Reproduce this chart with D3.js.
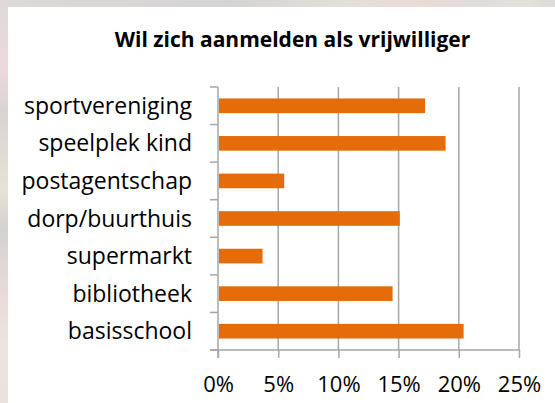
<!DOCTYPE html>
<html>
<head>
<meta charset="utf-8">
<script src="https://cdn.jsdelivr.net/npm/d3@7"></script>
<style>
  body { margin: 0; padding: 0; background: #fff; }
  svg { display: block; }
  text { font-family: "Open Sans", "Noto Sans", sans-serif; fill: #000; }
</style>
</head>
<body>
<svg id="vis" width="555" height="403"></svg>
<script>
// chart data
const categories = ["sportvereniging", "speelplek kind", "postagentschap", "dorp/buurthuis",
                    "supermarkt", "bibliotheek", "basisschool"];
const values = [17.2, 18.9, 5.5, 15.1, 3.7, 14.5, 20.4];
const xTicks = [0, 5, 10, 15, 20, 25];
const title = "Wil zich aanmelden als vrijwilliger";

const WIDTH = 555, HEIGHT = 403;
const PLOT = {left: 218, right: 519, top: 87, bottom: 350};

const svg = d3.select("#vis");

// blurred photo behind the card
const defs = svg.append("defs");
const leftGrad = defs.append("linearGradient").attr("id", "leftBg")
    .attr("x1", 0).attr("y1", 0).attr("x2", 0).attr("y2", 1);
[[0, "#dedada"], [0.17, "#ecd8dc"], [0.28, "#d8d4d4"], [0.47, "#e6e2d4"],
 [0.57, "#d4d2d2"], [0.72, "#e8dada"], [0.85, "#ece4e0"], [1, "#eae2de"]]
    .forEach(s => leftGrad.append("stop").attr("offset", s[0]).attr("stop-color", s[1]));
const topGrad = defs.append("linearGradient").attr("id", "topBg")
    .attr("x1", 0).attr("y1", 0).attr("x2", 1).attr("y2", 0);
[[0, "#dedada"], [0.2, "#dad6d6"], [0.42, "#d4d4d4"], [0.62, "#e4e0d8"], [0.78, "#eadad4"],
 [0.87, "#e0dcdc"], [0.94, "#e4e2d8"], [1, "#dedad8"]]
    .forEach(s => topGrad.append("stop").attr("offset", s[0]).attr("stop-color", s[1]));

svg.append("rect").attr("width", WIDTH).attr("height", HEIGHT).attr("fill", "url(#leftBg)");
svg.append("rect").attr("width", WIDTH).attr("height", 7).attr("fill", "url(#topBg)");
svg.append("rect").attr("x", 8).attr("y", 7).attr("width", WIDTH - 8).attr("height", HEIGHT - 7)
    .attr("fill", "#ffffff");

// scales
const x = d3.scaleLinear().domain([0, 25]).range([PLOT.left, PLOT.right]);
const y = d3.scaleBand().domain(categories).range([PLOT.top, PLOT.bottom]).padding(0);

// title
svg.append("text")
    .attr("x", 292.5).attr("y", 47)
    .attr("text-anchor", "middle")
    .style("font-weight", "bold").style("font-size", "21px")
    .text(title);

// vertical gridlines
svg.append("g").selectAll("line")
    .data(xTicks.slice(1))
    .enter().append("line")
    .attr("x1", d => x(d)).attr("x2", d => x(d))
    .attr("y1", PLOT.top).attr("y2", PLOT.bottom)
    .attr("stroke", "#a6a6a6").attr("stroke-width", 1.5);

// bottom axis
const xAxis = d3.axisBottom(x)
    .tickValues(xTicks)
    .tickSize(8)
    .tickPadding(18)
    .tickFormat(d => d + "%");
const gx = svg.append("g")
    .attr("transform", `translate(0, ${PLOT.bottom})`)
    .call(xAxis);
gx.select(".domain").remove();
gx.selectAll("line").attr("stroke", "#a6a6a6").attr("stroke-width", 1.5);
gx.selectAll("text").style("font-size", "22px").style("font-family", "'Open Sans', sans-serif")
    .attr("fill", "#000");
svg.append("line")
    .attr("x1", PLOT.left - 8).attr("x2", PLOT.right)
    .attr("y1", PLOT.bottom).attr("y2", PLOT.bottom)
    .attr("stroke", "#a6a6a6").attr("stroke-width", 1.5);

// left axis with ticks between categories
svg.append("line")
    .attr("x1", PLOT.left).attr("x2", PLOT.left)
    .attr("y1", PLOT.top).attr("y2", PLOT.bottom + 8)
    .attr("stroke", "#a6a6a6").attr("stroke-width", 1.5);
const bounds = categories.map(c => y(c)).concat([y(categories[categories.length - 1]) + y.bandwidth()]);
svg.append("g").selectAll("line")
    .data(bounds)
    .enter().append("line")
    .attr("x1", PLOT.left - 8).attr("x2", PLOT.left)
    .attr("y1", d => d).attr("y2", d => d)
    .attr("stroke", "#a6a6a6").attr("stroke-width", 1.5);

svg.append("g").selectAll("text")
    .data(categories)
    .enter().append("text")
    .attr("x", 192)
    .attr("y", d => y(d) + y.bandwidth() / 2)
    .attr("dy", "0.35em")
    .attr("text-anchor", "end")
    .style("font-size", "23px")
    .text(d => d);

// bars
const barH = y.bandwidth() * 0.39;
svg.append("g").selectAll("rect")
    .data(categories)
    .enter().append("rect")
    .attr("x", x(0) + 1)
    .attr("y", d => y(d) + (y.bandwidth() - barH) / 2)
    .attr("width", (d, i) => x(values[i]) - x(0) - 1)
    .attr("height", barH)
    .attr("fill", "#e46c0a");
</script>
</body>
</html>
